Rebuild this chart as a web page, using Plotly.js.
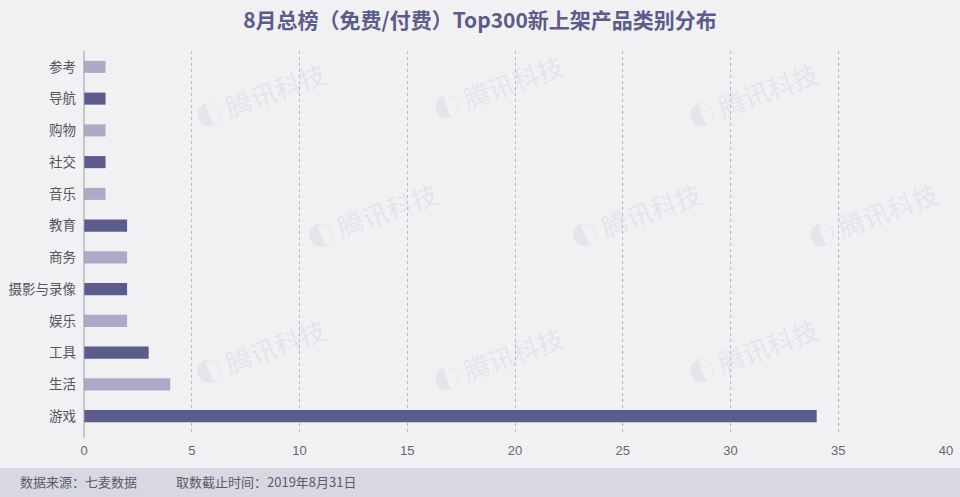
<!DOCTYPE html>
<html>
<head>
<meta charset="utf-8">
<script src="https://cdn.plot.ly/plotly-3.0.1.min.js"></script>
<style>
  html, body { margin: 0; padding: 0; background: #f1f1f3; }
  #chart { width: 960px; height: 497px; }
</style>
</head>
<body>
<div id="chart"></div>
<script>
// categories bottom -> top
var categories = ["游戏", "生活", "工具", "娱乐", "摄影与录像", "商务", "教育", "音乐", "社交", "购物", "导航", "参考"];
var counts = [34, 4, 3, 2, 2, 2, 2, 1, 1, 1, 1, 1];
var xTicks = [0, 5, 10, 15, 20, 25, 30, 35, 40];

var dark = "#5c5c8c";
var light = "#ababc8";
var barColors = categories.map((c, i) => i % 2 === 0 ? dark : light);

// faint watermark spots (paper coords)
var marks = [[0.12, 1.0], [0.48, 1.02], [0.86, 1.0], [0.25, 0.57], [0.64, 0.57], [1.0, 0.57], [0.12, 0.1], [0.48, 0.08], [0.86, 0.1]];

var trace = {
  type: "bar",
  orientation: "h",
  y: categories,
  x: counts,
  marker: { color: barColors },
  hoverinfo: "x+y"
};

var annotations = marks.map(m => ({
  xref: "paper", yref: "paper", x: m[0], y: m[1],
  text: "◐ 腾讯科技", showarrow: false, textangle: -20,
  font: { family: "Noto Sans CJK SC", size: 26, color: "rgba(212,212,222,0.45)" }
}));

annotations.push({
  xref: "paper", yref: "paper", x: -0.076, y: -0.131,
  xanchor: "left", yanchor: "middle", showarrow: false,
  text: "数据来源：七麦数据　　　取数截止时间：2019年8月31日",
  font: { family: "Noto Sans CJK SC", size: 13, color: "#5a5a66" }
});

var layout = {
  width: 960,
  height: 497,
  paper_bgcolor: "#f1f1f3",
  plot_bgcolor: "#f1f1f3",
  margin: { l: 84, r: 14, t: 51, b: 65 },
  showlegend: false,
  bargap: 0.62,
  title: {
    text: "<b>8月总榜（免费/付费）Top300新上架产品类别分布</b>",
    x: 0.5, xref: "container", xanchor: "center",
    y: 0.958, yanchor: "middle",
    font: { family: "Noto Sans CJK SC", size: 21, color: "#5c5c8a" }
  },
  xaxis: {
    range: [0, 40],
    tickvals: xTicks,
    showgrid: true,
    gridcolor: "#b4b4c2",
    griddash: "dot",
    gridwidth: 1,
    zeroline: false,
    showline: false,
    ticks: "",
    ticklabelstandoff: 9,
    tickfont: { family: "Liberation Sans, Arial", size: 13, color: "#666670" },
    fixedrange: true
  },
  yaxis: {
    type: "category",
    range: [-0.5, 11.5],
    showgrid: false,
    zeroline: false,
    showline: false,
    ticks: "",
    ticklabelstandoff: 7,
    tickfont: { family: "Noto Sans CJK SC", size: 13.5, color: "#555560" },
    fixedrange: true
  },
  shapes: [
    { type: "rect", xref: "paper", yref: "paper", x0: -0.1, x1: 1.02, y0: -0.175, y1: -0.0945,
      fillcolor: "#d8d8e3", line: { width: 0 }, layer: "below" },
    { type: "line", xref: "paper", yref: "paper", x0: 0, x1: 0, y0: -0.015, y1: 1.0,
      line: { color: "#9a9aa8", width: 1 } }
  ],
  annotations: annotations
};

Plotly.newPlot("chart", [trace], layout, { displayModeBar: false, staticPlot: true });
</script>
</body>
</html>
